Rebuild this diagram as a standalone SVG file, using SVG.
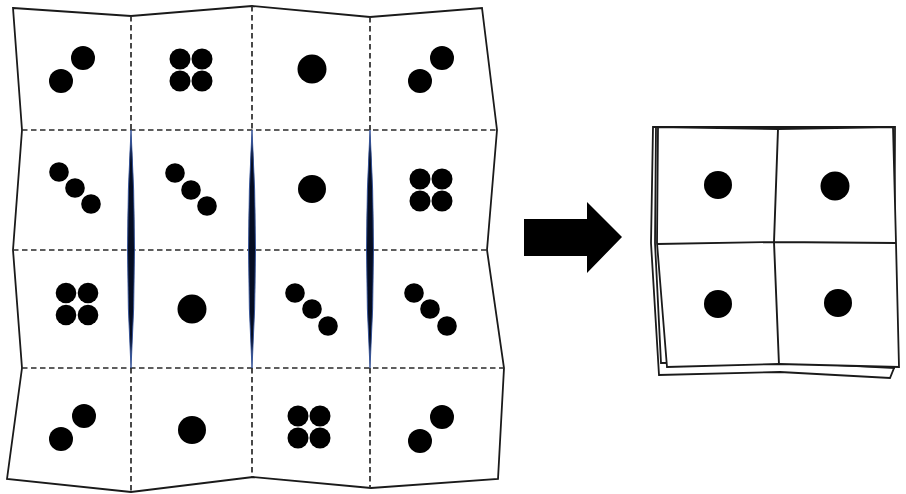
<svg xmlns="http://www.w3.org/2000/svg" width="906" height="494" viewBox="0 0 906 494">
<style>
.edge{fill:#fff;stroke:#1a1a1a;stroke-width:1.8;stroke-linejoin:miter}
.dash{fill:none;stroke:#2a2a2a;stroke-width:1.7;stroke-dasharray:5.5 3.5}
.fold{fill:#050d22;stroke:#2f4f9a;stroke-width:0.9}
.dot{fill:#000}
.line{fill:none;stroke:#1a1a1a;stroke-width:1.9}
</style>
<rect width="906" height="494" fill="#fff"/>
<g id="sheet">
<polygon class="edge" points="13,8 131,16 252,6 370,17 482,8 497,130 487,250 504,368 498,479 371,488 253,477 131,492 7,479 22,368 13,250 22,130"/>
</g>
<g id="creases">
<path class="dash" d="M22,130H497M13,250H487M22,368H504"/>
<path class="dash" d="M131,16V130M131,368V492M252,6V130M252,368V477M370,17V130M370,368V488"/>
<path class="fold" d="M131,130Q138,250 131,368Q124,250 131,130Z"/>
<path class="fold" d="M252,130Q259,250 252,368Q245,250 252,130Z"/>
<path class="fold" d="M370,130Q377,250 370,368Q363,250 370,130Z"/>
</g>
<g id="cell-r1c1" class="dot"><circle cx="83" cy="58" r="12"/><circle cx="61" cy="81" r="12"/></g>
<g id="cell-r1c2" class="dot"><circle cx="180" cy="59" r="10.5"/><circle cx="202" cy="59" r="10.5"/><circle cx="180" cy="81" r="10.5"/><circle cx="202" cy="81" r="10.5"/></g>
<g id="cell-r1c3" class="dot"><circle cx="312" cy="69" r="14.5"/></g>
<g id="cell-r1c4" class="dot"><circle cx="442" cy="58" r="12"/><circle cx="420" cy="81" r="12"/></g>
<g id="cell-r2c1" class="dot"><circle cx="59" cy="172" r="9.8"/><circle cx="75" cy="188" r="9.8"/><circle cx="91" cy="204" r="9.8"/></g>
<g id="cell-r2c2" class="dot"><circle cx="175" cy="173" r="9.8"/><circle cx="191" cy="190" r="9.8"/><circle cx="207" cy="206" r="9.8"/></g>
<g id="cell-r2c3" class="dot"><circle cx="312" cy="189" r="14"/></g>
<g id="cell-r2c4" class="dot"><circle cx="420" cy="179" r="10.5"/><circle cx="442" cy="179" r="10.5"/><circle cx="420" cy="201" r="10.5"/><circle cx="442" cy="201" r="10.5"/></g>
<g id="cell-r3c1" class="dot"><circle cx="66" cy="293" r="10.3"/><circle cx="88" cy="293" r="10.3"/><circle cx="66" cy="315" r="10.3"/><circle cx="88" cy="315" r="10.3"/></g>
<g id="cell-r3c2" class="dot"><circle cx="192" cy="309" r="14.5"/></g>
<g id="cell-r3c3" class="dot"><circle cx="295" cy="293" r="9.8"/><circle cx="312" cy="309" r="9.8"/><circle cx="328" cy="326" r="9.8"/></g>
<g id="cell-r3c4" class="dot"><circle cx="414" cy="293" r="9.8"/><circle cx="430" cy="309" r="9.8"/><circle cx="447" cy="326" r="9.8"/></g>
<g id="cell-r4c1" class="dot"><circle cx="84" cy="416" r="12"/><circle cx="61" cy="439" r="12"/></g>
<g id="cell-r4c2" class="dot"><circle cx="192" cy="430" r="14"/></g>
<g id="cell-r4c3" class="dot"><circle cx="298" cy="416" r="10.5"/><circle cx="320" cy="416" r="10.5"/><circle cx="298" cy="438" r="10.5"/><circle cx="320" cy="438" r="10.5"/></g>
<g id="cell-r4c4" class="dot"><circle cx="442" cy="417" r="12"/><circle cx="420" cy="441" r="12"/></g>
<g id="arrow">
<polygon fill="#000" points="524,219 587,219 587,202 622,237 587,273 587,256 524,256"/>
</g>
<g id="folded-stack">
<polygon class="edge" points="653,127 651,243 659,375 780,372 890,378 894,368 893,127"/>
<polygon class="edge" points="656,127 655,243 661,363 780,362 894,368 895,127"/>
<polygon class="edge" points="658,127 778,129 893,127 896,243 899,367 779,364 667,367 657,243"/>
<path class="line" d="M657,244L774,242L896,243M778,129L774,242L779,365"/>
<g class="dot"><circle cx="718" cy="185" r="14"/><circle cx="835" cy="186" r="14.5"/><circle cx="718" cy="304" r="14"/><circle cx="838" cy="303" r="14"/></g>
</g>
</svg>
